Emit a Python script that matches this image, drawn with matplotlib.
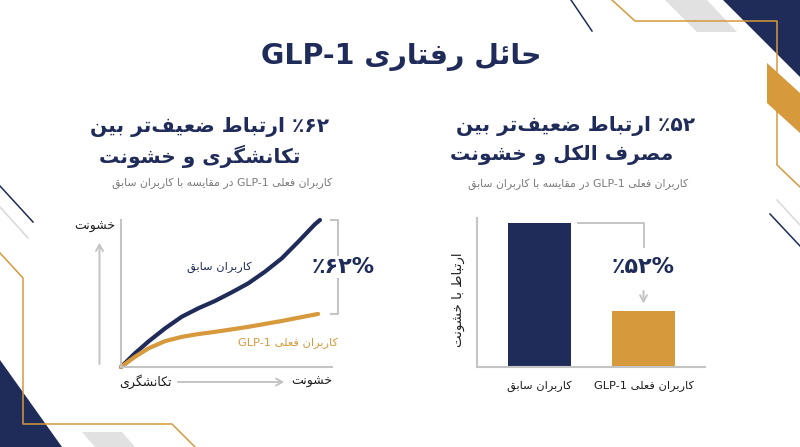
import matplotlib
matplotlib.use('Agg')
import matplotlib.pyplot as plt
from matplotlib.patches import Polygon

plt.rcParams['font.family'] = ['DejaVu Sans']

NAVY = '#1f2b59'
ORANGE = '#d6993c'
GRAY = '#c4c4c4'
DARK = '#1e1e1e'
SUBGRAY = '#7a7a7a'

# ---------------- data ----------------
title = 'حائل رفتاری GLP-1'
left_heading = ['۶۲٪ ارتباط ضعیف\u200cتر بین', 'تکانشگری و خشونت']
right_heading = ['۵۲٪ ارتباط ضعیف\u200cتر بین', 'مصرف الکل و خشونت']
subtitle = 'کاربران فعلی GLP-1 در مقایسه با کاربران سابق'
series_names = ['کاربران سابق', 'کاربران فعلی GLP-1']

line_x = [0, 6.6, 12.9, 20.9, 28.8, 36.6, 44.5, 52.5, 60.3, 68.2, 76.2, 84.0, 91.9, 94.3]
former_y = [0, 9.3, 17.2, 26.3, 34.2, 39.9, 44.9, 50.8, 56.9, 64.8, 73.9, 85.2, 97.1, 100]
current_x = [0, 6.6, 12.9, 20.9, 28.8, 36.6, 44.5, 52.5, 60.3, 68.2, 76.2, 84.0, 93.4]
current_y = [0, 6.9, 12.6, 17.6, 20.5, 22.4, 23.9, 25.6, 27.3, 29.3, 31.3, 33.5, 36.1]
line_xlabel_left = 'تکانشگری'
line_xlabel_right = 'خشونت'
line_ylabel = 'خشونت'
line_gap_label = '%۶۲٪'

bar_values = [96.6, 37.6]
bar_ylabel = 'ارتباط با خشونت'
bar_gap_label = '%۵۲٪'

# ---------------- minimal Persian shaping + bidi ----------------
DUAL = {
    'ب': 'ﺏﺐﺑﺒ', 'پ': 'ﭖﭗﭘﭙ', 'ت': 'ﺕﺖﺗﺘ', 'ث': 'ﺙﺚﺛﺜ', 'ج': 'ﺝﺞﺟﺠ',
    'چ': 'ﭺﭻﭼﭽ', 'ح': 'ﺡﺢﺣﺤ', 'خ': 'ﺥﺦﺧﺨ', 'س': 'ﺱﺲﺳﺴ', 'ش': 'ﺵﺶﺷﺸ',
    'ص': 'ﺹﺺﺻﺼ', 'ض': 'ﺽﺾﺿﻀ', 'ط': 'ﻁﻂﻃﻄ', 'ظ': 'ﻅﻆﻇﻈ', 'ع': 'ﻉﻊﻋﻌ',
    'غ': 'ﻍﻎﻏﻐ', 'ف': 'ﻑﻒﻓﻔ', 'ق': 'ﻕﻖﻗﻘ', 'ک': 'ﮎﮏﮐﮑ', 'گ': 'ﮒﮓﮔﮕ',
    'ل': 'ﻝﻞﻟﻠ', 'م': 'ﻡﻢﻣﻤ', 'ن': 'ﻥﻦﻧﻨ', 'ه': 'ﻩﻪﻫﻬ', 'ی': 'ﯼﯽﯾﯿ',
    'ئ': 'ﺉﺊﺋﺌ',
}
RIGHT = {
    'ا': 'ﺍﺎ', 'آ': 'ﺁﺂ', 'د': 'ﺩﺪ', 'ذ': 'ﺫﺬ', 'ر': 'ﺭﺮ', 'ز': 'ﺯﺰ',
    'ژ': 'ﮊﮋ', 'و': 'ﻭﻮ',
}


def is_ar(c):
    return c in DUAL or c in RIGHT


def shape(s):
    out = []
    n = len(s)
    i = 0
    while i < n:
        c = s[i]
        if not is_ar(c):
            if c != '\u200c':
                out.append(c)
            i += 1
            continue
        prev = i > 0 and s[i - 1] in DUAL
        if c == 'ل' and i + 1 < n and s[i + 1] == 'ا':
            out.append('\uFEFC' if prev else '\uFEFB')
            i += 2
            continue
        nxt = c in DUAL and i + 1 < n and is_ar(s[i + 1])
        if c in DUAL:
            f = DUAL[c]
            out.append(f[3] if prev and nxt else f[1] if prev else f[2] if nxt else f[0])
        else:
            f = RIGHT[c]
            out.append(f[1] if prev else f[0])
        i += 1
    return ''.join(out)


def is_ltr(c):
    return (c.isascii() and c.isalnum()) or ('\u06F0' <= c <= '\u06F9')


def fa(s):
    t = shape(s)
    n = len(t)
    cls = ['L' if is_ltr(c) else 'R' for c in t]
    for i, c in enumerate(t):
        if cls[i] == 'R' and c in '-. ' and 0 < i < n - 1 and cls[i - 1] == 'L' and is_ltr(t[i + 1]):
            cls[i] = 'L'
    runs = []
    for c, k in zip(t, cls):
        if runs and runs[-1][0] == k:
            runs[-1][1].append(c)
        else:
            runs.append([k, [c]])
    return ''.join(''.join(r) if k == 'L' else ''.join(r[::-1]) for k, r in reversed(runs))


# ---------------- figure ----------------
W, H = 800, 447
fig = plt.figure(figsize=(8, 4.47), dpi=100)
fig.patch.set_facecolor('white')

bg = fig.add_axes([0, 0, 1, 1])
bg.set_xlim(0, W)
bg.set_ylim(H, 0)
bg.axis('off')
bg.set_zorder(-1)

# decorations (pixel layout)
bg.add_patch(Polygon([(723, 0), (800, 0), (800, 77)], closed=True, fc=NAVY, ec='none'))
bg.add_patch(Polygon([(665, 0), (707, 0), (737, 32), (697, 32)], closed=True, fc='#e1e1e1', ec='none'))
bg.add_patch(Polygon([(767, 63), (800, 93), (800, 133), (767, 103)], closed=True, fc=ORANGE, ec='none'))
bg.plot([612, 635, 777, 777, 800], [0, 21, 21, 165, 187], color=ORANGE, lw=1.1)
bg.plot([777, 800], [200, 225], color='#d8d8d8', lw=1.1)
bg.plot([770, 800], [214, 246], color=NAVY, lw=1.1)
bg.plot([571, 592], [0, 31], color=NAVY, lw=1.1)
bg.plot([0, 33], [186, 222], color=NAVY, lw=1.1)
bg.plot([0, 28], [207, 238], color='#d8d8d8', lw=1.1)
bg.plot([0, 23, 23, 172, 195], [253, 278, 424, 424, 447], color=ORANGE, lw=1.1)
bg.add_patch(Polygon([(0, 360), (62, 447), (0, 447)], closed=True, fc=NAVY, ec='none'))
bg.add_patch(Polygon([(82, 432), (122, 432), (135, 447), (95, 447)], closed=True, fc='#e1e1e1', ec='none'))

# titles
HS = 14.5
bg.text(401, 57, fa(title), ha='center', va='center', fontsize=20.5, fontweight='bold', color=NAVY)
bg.text(209, 127, fa(left_heading[0]), ha='center', va='center', fontsize=HS, fontweight='bold', color=NAVY)
bg.text(200, 156, fa(left_heading[1]), ha='center', va='center', fontsize=HS, fontweight='bold', color=NAVY)
bg.text(222, 183, fa(subtitle), ha='center', va='center', fontsize=7.8, color=SUBGRAY)
bg.text(576, 126, fa(right_heading[0]), ha='center', va='center', fontsize=HS, fontweight='bold', color=NAVY)
bg.text(562, 155, fa(right_heading[1]), ha='center', va='center', fontsize=HS, fontweight='bold', color=NAVY)
bg.text(578, 184, fa(subtitle), ha='center', va='center', fontsize=7.8, color=SUBGRAY)


def px_axes(x0, y0, x1, y1):
    return fig.add_axes([x0 / W, (H - y1) / H, (x1 - x0) / W, (y1 - y0) / H])


def style(ax):
    ax.set_facecolor('none')
    for s in ('top', 'right'):
        ax.spines[s].set_visible(False)
    for s in ('left', 'bottom'):
        ax.spines[s].set_color(GRAY)
        ax.spines[s].set_linewidth(1.5)
    ax.tick_params(length=0)


LS = 8.2

# ---------------- line chart ----------------
ax1 = px_axes(121, 220, 332, 367)
style(ax1)
ax1.set_xlim(0, 100)
ax1.set_ylim(0, 100)
ax1.set_xticks([])
ax1.set_yticks([])
ax1.plot(line_x, former_y, color=NAVY, lw=3, solid_capstyle='round', solid_joinstyle='round', clip_on=False)
ax1.plot(current_x, current_y, color=ORANGE, lw=3, solid_capstyle='round', solid_joinstyle='round', clip_on=False)
ax1.text(46.4, 68.0, fa(series_names[0]), ha='center', va='center', fontsize=LS, color=NAVY)
ax1.text(79.1, 16.3, fa(series_names[1]), ha='center', va='center', fontsize=LS, color=ORANGE)

# bracket showing the gap
bx = 102.8
ax1.plot([99.5, bx, bx, 99.5], [former_y[-1], former_y[-1], current_y[-1], current_y[-1]],
         color=GRAY, lw=1.5, clip_on=False)
ax1.text(105.2, (former_y[-1] + current_y[-1]) / 2, fa(line_gap_label), ha='center', va='center',
         fontsize=16, fontweight='bold', color=NAVY,
         bbox=dict(fc='white', ec='none', pad=1))

# axis arrows and labels
arrow = dict(arrowstyle='->,head_length=0.45,head_width=0.25', color=GRAY, lw=1.4)
ax1.annotate('', xy=(-10.2, 86.4), xytext=(-10.2, 0), arrowprops=arrow, annotation_clip=False)
ax1.annotate('', xy=(78.7, -10.2), xytext=(25.6, -10.2), arrowprops=arrow, annotation_clip=False)
ax1.text(-12.3, 95.9, fa(line_ylabel), ha='center', va='center', fontsize=9, color=DARK)
ax1.text(11.4, -10.2, fa(line_xlabel_left), ha='center', va='center', fontsize=9, color=DARK)
ax1.text(90.5, -10.2, fa(line_xlabel_right), ha='center', va='center', fontsize=9, color=DARK)

# ---------------- bar chart ----------------
ax2 = px_axes(477, 218, 705, 367)
style(ax2)
pos = [0, 1]
bw = 0.606
ax2.bar(pos, bar_values, width=bw, color=[NAVY, ORANGE])
ax2.set_xlim(-0.601, 1.591)
ax2.set_ylim(0, 100)
ax2.set_yticks([])
ax2.set_xticks(pos)
ax2.set_xticklabels([fa(s) for s in series_names], fontsize=LS, color=DARK)
ax2.tick_params(axis='x', pad=10)
ax2.text(-0.083, 0.45, fa(bar_ylabel), rotation=90, ha='center', va='center', fontsize=9.5,
         color=DARK, transform=ax2.transAxes)

# connector and arrow
ax2.plot([pos[0] + bw / 2 + 0.07, pos[1], pos[1]], [bar_values[0], bar_values[0], 80.5],
         color=GRAY, lw=1.4)
ax2.annotate('', xy=(pos[1], bar_values[1] + 3.2), xytext=(pos[1], 53),
             arrowprops=arrow, annotation_clip=False)
ax2.text(pos[1], 67.1, fa(bar_gap_label), ha='center', va='center', fontsize=16,
         fontweight='bold', color=NAVY)

fig.savefig('out.png', dpi=100, facecolor='white')
